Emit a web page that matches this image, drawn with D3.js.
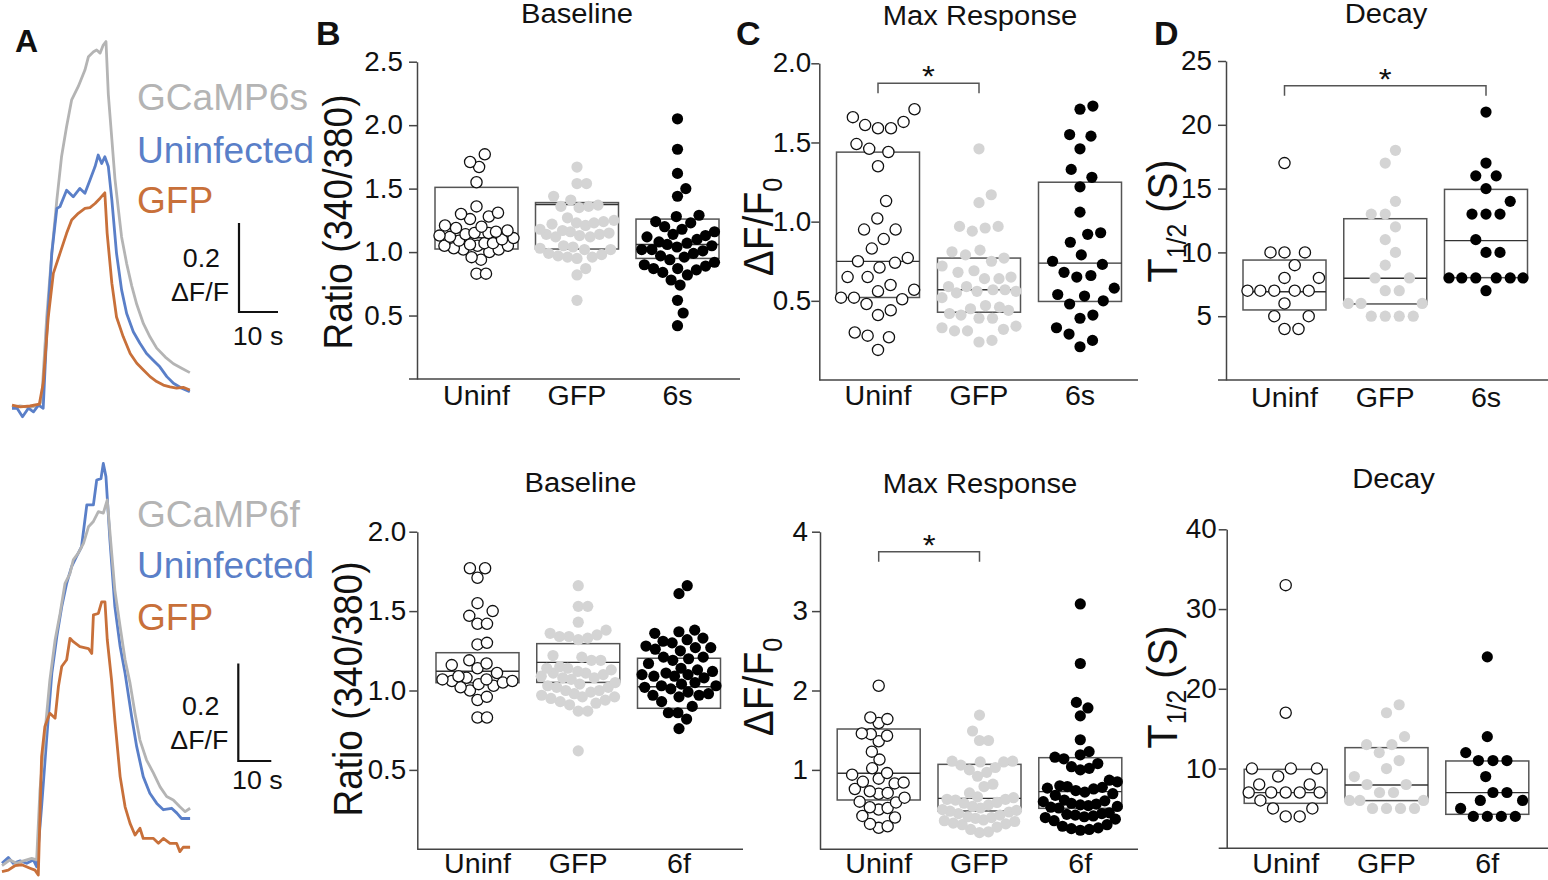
<!DOCTYPE html>
<html><head><meta charset="utf-8">
<script src="https://cdn.jsdelivr.net/npm/d3@7"></script>
<style>
body{margin:0;background:#fff}
svg{display:block}
text{font-family:"Liberation Sans",Arial,Helvetica,sans-serif}
</style>
</head><body>
<svg id="c" width="1548" height="880"></svg>
<script>
// ================= DATA =================
const groupsTop = ["Uninf", "GFP", "6s"];
const groupsBottom = ["Uninf", "GFP", "6f"];

// Panel A traces: [time (s), ΔF/F]
const traceTopGray = [[0,-0.003],[2.05,0],[4.6,-0.003],[7.0,0.002],[7.6,0.013],[8.9,0.20],[10.2,0.343],[11.5,0.463],[12.7,0.56],[14.0,0.628],[15.3,0.688],[17.0,0.718],[18.7,0.755],[19.6,0.785],[20.9,0.796],[21.7,0.80],[22.6,0.793],[23.4,0.811],[24.1,0.819],[24.7,0.70],[25.6,0.60],[26.4,0.51],[27.3,0.44],[28.1,0.38],[29.4,0.32],[30.7,0.27],[32.0,0.228],[33.7,0.185],[35.4,0.155],[37.1,0.13],[39.3,0.11],[41.4,0.095],[43.5,0.085],[45.6,0.075]];
const traceTopBlue = [[0,-0.005],[1.3,-0.005],[2.7,-0.024],[4.2,-0.005],[5.5,-0.013],[6.8,0.002],[8.0,-0.005],[8.9,0.163],[10.2,0.343],[11.5,0.444],[12.3,0.448],[14.0,0.485],[15.7,0.47],[17.4,0.489],[18.7,0.478],[20.0,0.508],[21.3,0.538],[22.1,0.564],[23.0,0.545],[23.8,0.56],[24.7,0.538],[25.6,0.463],[26.8,0.343],[28.1,0.261],[29.4,0.208],[31.1,0.167],[32.8,0.141],[34.5,0.118],[36.2,0.103],[37.9,0.088],[39.7,0.066],[41.4,0.051],[43.5,0.04],[45.6,0.032]];
const traceTopOrange = [[0,0.002],[2.1,-0.002],[4.6,0],[7.0,0.004],[8.0,0.051],[9.3,0.20],[10.6,0.298],[12.3,0.343],[14.0,0.388],[15.3,0.418],[17.0,0.433],[18.7,0.444],[20.0,0.446],[21.3,0.455],[22.6,0.467],[23.8,0.479],[24.4,0.388],[25.6,0.276],[26.8,0.20],[28.5,0.156],[30.3,0.118],[32.0,0.096],[33.7,0.081],[35.4,0.066],[37.1,0.055],[38.8,0.047],[40.5,0.043],[42.2,0.04],[43.9,0.042],[45.6,0.036]];

const traceBotGray = [[0,-0.005],[2.4,0.007],[4.4,0],[6.5,0.005],[9.0,0.01],[10.5,0.007],[11.5,0.15],[13.0,0.267],[14.5,0.376],[16.1,0.459],[17.6,0.513],[19.1,0.575],[20.6,0.595],[21.6,0.623],[23.1,0.637],[24.7,0.657],[26.2,0.691],[27.7,0.702],[29.2,0.722],[30.7,0.719],[31.9,0.746],[32.9,0.664],[34.2,0.561],[35.8,0.486],[37.3,0.418],[38.8,0.37],[40.3,0.308],[41.8,0.253],[43.8,0.212],[45.9,0.185],[47.9,0.157],[49.9,0.137],[51.9,0.13],[53.9,0.116],[55.5,0.106],[57.0,0.113]];
const traceBotBlue = [[0,0],[1.9,0.012],[3.4,0],[5.5,0.005],[7.5,0],[9.5,0.007],[10.5,-0.007],[12.0,0.116],[13.5,0.253],[15.1,0.39],[16.6,0.465],[18.1,0.527],[19.6,0.575],[21.1,0.609],[22.6,0.63],[24.1,0.65],[25.7,0.736],[27.7,0.736],[28.7,0.787],[30.0,0.79],[30.7,0.821],[31.5,0.794],[32.7,0.664],[34.2,0.527],[35.8,0.445],[37.3,0.39],[39.3,0.301],[40.8,0.24],[42.8,0.178],[44.8,0.144],[46.9,0.123],[48.9,0.11],[51.4,0.113],[53.0,0.103],[54.4,0.092],[57.0,0.092]];
const traceBotOrange = [[0,-0.017],[1.9,-0.014],[3.9,-0.005],[6.0,-0.003],[8.5,-0.01],[10.0,-0.014],[11.0,-0.024],[12.0,0.219],[13.0,0.281],[14.5,0.308],[16.1,0.298],[17.1,0.363],[18.1,0.404],[19.6,0.418],[20.6,0.462],[21.6,0.455],[23.6,0.445],[26.2,0.441],[27.2,0.431],[27.7,0.51],[29.2,0.513],[30.2,0.537],[31.2,0.537],[31.9,0.459],[33.2,0.376],[34.2,0.294],[35.8,0.178],[37.3,0.116],[38.8,0.082],[40.3,0.058],[41.8,0.072],[42.8,0.051],[45.9,0.051],[47.4,0.041],[48.9,0.051],[50.9,0.041],[52.9,0.041],[53.9,0.024],[54.9,0.033],[57.0,0.033]];

// Scale bar values
const scaleBarDF = 0.2;   // ΔF/F
const scaleBarT = 10;     // s

// Baseline (top, 6s)
const baseTopUninf = [1.77,1.71,1.67,1.55,1.36,1.31,1.30,1.28,1.26,1.21,1.20,1.19,1.17,1.16,1.15,1.15,1.14,1.13,1.12,1.11,1.10,1.09,1.07,1.07,1.06,1.05,1.05,1.05,1.03,1.02,1.02,1.00,0.96,0.94,0.83,0.83];
const baseTopGFP = [1.67,1.54,1.54,1.44,1.41,1.37,1.36,1.36,1.35,1.27,1.25,1.24,1.23,1.23,1.22,1.21,1.18,1.17,1.16,1.15,1.14,1.14,1.13,1.12,1.12,1.05,1.04,1.03,1.02,1.02,0.99,0.98,0.97,0.96,0.96,0.95,0.87,0.82,0.62];
const baseTop6s = [2.05,1.81,1.62,1.50,1.44,1.29,1.28,1.24,1.23,1.20,1.18,1.16,1.14,1.13,1.12,1.10,1.08,1.07,1.06,1.05,1.04,1.02,1.02,1.01,0.99,0.97,0.96,0.94,0.92,0.90,0.89,0.87,0.87,0.86,0.84,0.82,0.78,0.74,0.62,0.52,0.42];
const boxBaseTop = [[1.024,1.113,1.51],[1.024,1.375,1.39],[0.95,1.06,1.26]]; // [low, mid, high]

// Max response (top, 6s)
const maxTopUninf = [1.71,1.66,1.63,1.61,1.59,1.59,1.49,1.46,1.44,1.35,1.13,1.02,0.95,0.95,0.89,0.83,0.77,0.75,0.74,0.71,0.65,0.65,0.60,0.57,0.56,0.52,0.52,0.51,0.48,0.44,0.41,0.30,0.28,0.27,0.19];
const maxTopGFP = [1.46,1.17,1.12,0.97,0.97,0.96,0.94,0.82,0.81,0.79,0.77,0.75,0.72,0.69,0.68,0.65,0.64,0.64,0.59,0.59,0.57,0.57,0.56,0.56,0.55,0.52,0.47,0.46,0.45,0.44,0.42,0.41,0.39,0.39,0.34,0.33,0.32,0.31,0.31,0.25,0.24];
const maxTop6s = [1.73,1.71,1.55,1.54,1.46,1.33,1.28,1.22,1.06,0.93,0.92,0.87,0.79,0.75,0.73,0.68,0.66,0.65,0.58,0.54,0.53,0.50,0.48,0.41,0.39,0.33,0.29,0.25,0.21];
const boxMaxTop = [[0.521,0.749,1.439],[0.428,0.57,0.77],[0.496,0.738,1.249]];

// Decay (top, 6s)
const decayTopUninf = [17,10,10,10,9,8,8,7,7,7,7,7,6,5,5,4,4];
const decayTopGFP = [18,17,14,13,13,12,11,10,9,8,8,7,7,6,6,6,5,5,5,5];
const decayTop6s = [21,17,16,16,15,14,13,13,13,11,10,10,8,8,8,8,8,8,7];
const boxDecayTop = [[5.49,6.92,9.40],[5.96,7.97,12.64],[8.02,10.92,14.94]];

// Baseline (bottom, 6f)
const baseBotUninf = [1.77,1.77,1.71,1.55,1.50,1.47,1.42,1.42,1.30,1.29,1.19,1.17,1.16,1.14,1.11,1.09,1.08,1.07,1.07,1.06,1.06,1.05,1.04,1.03,1.02,1.00,0.96,0.94,0.83,0.83];
const baseBotGFP = [1.66,1.53,1.53,1.43,1.38,1.36,1.35,1.34,1.34,1.33,1.32,1.22,1.21,1.19,1.19,1.15,1.14,1.14,1.13,1.12,1.11,1.11,1.10,1.09,1.08,1.08,1.07,1.05,1.04,1.03,1.02,1.02,1.00,1.00,0.99,0.98,0.97,0.96,0.96,0.95,0.94,0.93,0.92,0.91,0.87,0.87,0.62];
const baseBot6f = [1.66,1.61,1.38,1.37,1.36,1.33,1.32,1.31,1.30,1.28,1.27,1.27,1.26,1.25,1.21,1.21,1.20,1.19,1.17,1.14,1.13,1.12,1.11,1.10,1.10,1.09,1.09,1.08,1.05,1.04,1.03,1.03,1.02,1.01,0.99,0.98,0.97,0.97,0.96,0.93,0.90,0.86,0.86,0.82,0.76];
const boxBaseBot = [[1.049,1.121,1.238],[1.051,1.177,1.295],[0.888,1.024,1.203]];

// Max response (bottom, 6f)
const maxBotUninf = [2.06,1.66,1.64,1.59,1.46,1.45,1.43,1.36,1.23,1.13,1.02,0.96,0.94,0.89,0.85,0.84,0.83,0.76,0.73,0.71,0.70,0.65,0.60,0.59,0.53,0.52,0.50,0.42,0.40,0.32,0.29,0.27];
const maxBotGFP = [1.69,1.49,1.37,1.37,1.11,1.11,1.10,1.10,1.06,1.03,1.00,0.97,0.92,0.82,0.79,0.71,0.66,0.65,0.63,0.63,0.62,0.59,0.58,0.56,0.54,0.52,0.50,0.49,0.48,0.47,0.45,0.43,0.41,0.40,0.39,0.37,0.36,0.35,0.33,0.32,0.31,0.28,0.25,0.22,0.21];
const maxBot6f = [3.09,2.34,1.85,1.78,1.68,1.38,1.23,1.19,1.16,1.14,1.08,1.04,1.02,1.00,0.87,0.85,0.80,0.79,0.78,0.77,0.76,0.74,0.72,0.70,0.68,0.62,0.61,0.60,0.58,0.57,0.56,0.55,0.54,0.53,0.52,0.46,0.45,0.44,0.43,0.42,0.41,0.40,0.38,0.36,0.31,0.29,0.27,0.26,0.25,0.24];
const boxMaxBot = [[0.621,0.957,1.515],[0.483,0.642,1.07],[0.516,0.726,1.154]];

// Decay (bottom, 6f)
const decayBotUninf = [33,17,10,10,10,9,8,8,7,7,7,7,7,6,5,5,4,4];
const decayBotGFP = [18,17,14,13,13,12,11,10,9,8,8,7,7,6,6,6,5,5,5,5];
const decayBot6f = [24,14,12,11,11,11,9,7,7,6,6,5,4,4,4,4];
const boxDecayBot = [[5.64,6.98,9.9],[5.98,7.94,12.62],[4.26,6.98,10.95]];

// Tick values
const baseTopTicks = [0.5,1.0,1.5,2.0,2.5];
const maxTopTicks = [0.5,1.0,1.5,2.0];
const decayTopTicks = [5,10,15,20,25];
const baseBotTicks = [0.5,1.0,1.5,2.0];
const maxBotTicks = [1,2,3,4];
const decayBotTicks = [10,20,30,40];

// Significance pairs (group indices)
const sigMaxTop = [0,1];
const sigDecayTop = [0,2];
const sigMaxBot = [0,1];

// ================= DRAWING =================
const svg = d3.select("#c");
svg.append("rect").attr("width",1548).attr("height",880).attr("fill","#fff");

const COL_GRAY = "#b4b4b4", COL_BLUE = "#5a7fc8", COL_ORANGE = "#c8703a";
const DOT_GRAY = "#d4d4d4";

function stext(x, y, str, size, sx, anchor, opts={}) {
  const t = svg.append("text")
    .attr("transform", `translate(${x},${y}) scale(${sx},1)` + (opts.rot ? " rotate(-90)" : ""))
    .attr("text-anchor", anchor).attr("font-size", size)
    .attr("fill", opts.fill || "#111");
  if (opts.weight) t.attr("font-weight", opts.weight);
  if (str !== null) t.text(str);
  return t;
}

// ---- Panel A ----
function tracePanel(cfg) {
  const xs = d3.scaleLinear().domain([0, scaleBarT]).range([cfg.x0, cfg.x0 + cfg.pxPer10s]);
  const ys = d3.scaleLinear().domain([0, scaleBarDF]).range([cfg.y0, cfg.y0 - cfg.pxPer02]);
  const line = d3.line().x(d => xs(d[0])).y(d => ys(d[1]));
  cfg.traces.forEach(([data, col]) => {
    svg.append("path").attr("d", line(data)).attr("fill","none")
      .attr("stroke", col).attr("stroke-width", 2.8).attr("stroke-linejoin","round");
  });
  cfg.legend.forEach(([label, col], i) => {
    stext(137, cfg.legY[i], label, 36, 1.03, "start", {fill: col});
  });
  const h = ys(0) - ys(scaleBarDF), w = xs(scaleBarT) - xs(0);
  svg.append("path")
    .attr("d", `M${cfg.sbX},${cfg.sbY - h}V${cfg.sbY}H${cfg.sbX + w}`)
    .attr("fill","none").attr("stroke","#111").attr("stroke-width",2.2);
  stext(cfg.sbX - 19, cfg.lab02Y, "0.2", 26, 1.03, "end");
  stext(cfg.sbX - 10, cfg.labDFY, "ΔF/F", 26, 1.03, "end");
  stext(cfg.sbX + 19, cfg.lab10Y, "10 s", 26, 1.03, "middle");
}

tracePanel({x0: 12, pxPer10s: 39, y0: 406, pxPer02: 89,
  traces: [[traceTopGray, COL_GRAY], [traceTopBlue, COL_BLUE], [traceTopOrange, COL_ORANGE]],
  legend: [["GCaMP6s", COL_GRAY], ["Uninfected", COL_BLUE], ["GFP", COL_ORANGE]],
  legY: [110, 163, 213], sbX: 239, sbY: 312, lab02Y: 267, labDFY: 301, lab10Y: 345});

tracePanel({x0: 2, pxPer10s: 33, y0: 863.3, pxPer02: 97.4,
  traces: [[traceBotBlue, COL_BLUE], [traceBotGray, COL_GRAY], [traceBotOrange, COL_ORANGE]],
  legend: [["GCaMP6f", COL_GRAY], ["Uninfected", COL_BLUE], ["GFP", COL_ORANGE]],
  legY: [527, 578, 630], sbX: 238.3, sbY: 761, lab02Y: 715, labDFY: 749, lab10Y: 789});

// panel letters
stext(15, 52, "A", 32, 1.0, "start", {weight:"bold"});
stext(316, 45, "B", 34, 1.0, "start", {weight:"bold"});
stext(736, 45, "C", 34, 1.0, "start", {weight:"bold"});
stext(1154, 45, "D", 34, 1.0, "start", {weight:"bold"});

// ---- dot layout: beeswarm with anisotropic spacing (vertical distance weighted by k) ----
function swarm(vals, y, d, maxW, k) {
  const pts = vals.map(v => ({v, py: y(v)})).sort((a, b) => a.v - b.v);
  const placed = [];
  const dist = (c, q, p) => Math.hypot(c - q.dx, (p.py - q.py) * k);
  for (const p of pts) {
    const cands = [0];
    for (const q of placed) {
      const dy = Math.abs(p.py - q.py) * k;
      if (dy < d) { const dx = Math.sqrt(d*d - dy*dy); cands.push(q.dx + dx, q.dx - dx); }
    }
    cands.sort((a, b) => Math.abs(a) - Math.abs(b));
    let best = null;
    for (const c of cands) {
      if (Math.abs(c) > maxW + 1e-6) continue;
      if (placed.every(q => dist(c, q, p) >= d - 1e-6)) { best = c; break; }
    }
    if (best === null) {
      let bestM = -1;
      for (let c = -maxW; c <= maxW; c += 0.5) {
        const m = d3.min(placed, q => dist(c, q, p));
        if (m > bestM + 1e-9) { bestM = m; best = c; }
      }
    }
    p.dx = best; placed.push(p);
  }
  return pts;
}

// ---- scatter panels ----
function dotPanel(cfg) {
  const y = d3.scaleLinear().domain(cfg.domain).range([cfg.yBot, cfg.yTop]);
  const x = d3.scalePoint().domain(cfg.groups).range(cfg.centers);
  const bw = 83;

  const ax = d3.axisLeft(y).tickValues(cfg.ticks).tickSize(8).tickSizeOuter(0)
    .tickFormat(d3.format(cfg.fmt));
  const g = svg.append("g").attr("transform", `translate(${cfg.axisX},0)`).call(ax);
  g.select(".domain").attr("stroke","#444").attr("stroke-width",1.5);
  g.selectAll(".tick line").attr("stroke","#444").attr("stroke-width",1.5);
  g.selectAll(".tick text").attr("x", null)
    .attr("transform", `translate(${-(8 + cfg.pad)},0) scale(1.03,1)`)
    .attr("font-size", 27).attr("fill","#111")
    .attr("font-family", '"Liberation Sans",Arial,sans-serif');

  svg.append("line").attr("x1", cfg.axisX - cfg.xExt).attr("x2", cfg.xEnd)
    .attr("y1", y(0)).attr("y2", y(0)).attr("stroke","#444").attr("stroke-width",1.5);

  cfg.groups.forEach(gname => stext(x(gname), cfg.catY, gname, 27, 1.06, "middle"));

  stext(cfg.titleX, cfg.titleY, cfg.title, 27, 1.08, "middle");

  cfg.boxes.forEach((b, i) => {
    const xc = x(cfg.groups[i]);
    svg.append("rect").attr("x", xc - bw/2).attr("width", bw)
      .attr("y", y(b[2])).attr("height", y(b[0]) - y(b[2]))
      .attr("fill","none").attr("stroke","#555").attr("stroke-width",1.5);
    svg.append("line").attr("x1", xc - bw/2).attr("x2", xc + bw/2)
      .attr("y1", y(b[1])).attr("y2", y(b[1])).attr("stroke","#333").attr("stroke-width",1.4);
  });

  cfg.data.forEach((vals, i) => {
    const pts = swarm(vals, y, cfg.d, cfg.maxW, cfg.k);
    const xc = x(cfg.groups[i]);
    svg.append("g").selectAll("circle").data(pts).join("circle")
      .attr("cx", p => xc + p.dx).attr("cy", p => p.py).attr("r", 5.6)
      .attr("fill", i === 0 ? "#fff" : i === 1 ? DOT_GRAY : "#000")
      .attr("stroke", i === 0 ? "#111" : "none").attr("stroke-width", 1.3);
  });

  if (cfg.sig) {
    const x1 = x(cfg.groups[cfg.sig[0]]), x2 = x(cfg.groups[cfg.sig[1]]);
    svg.append("path").attr("d", `M${x1},${cfg.sigY + 10}V${cfg.sigY}H${x2}V${cfg.sigY + 10}`)
      .attr("fill","none").attr("stroke","#555").attr("stroke-width",1.5);
    stext((x1 + x2) / 2, cfg.sigY + 3, "*", 30, 1.1, "middle");
  }

  const t = stext(cfg.ylabX, cfg.ylabY, null, cfg.ylabSize, 1.08, "middle", {rot: true});
  if (cfg.ylab === "ratio") t.text("Ratio (340/380)");
  else if (cfg.ylab === "df") {
    t.append("tspan").text("ΔF/F");
    t.append("tspan").attr("font-size", cfg.ylabSize * 0.65).attr("dy", 8).text("0");
  } else {
    t.append("tspan").text("T");
    t.append("tspan").attr("font-size", cfg.ylabSize * 0.62).attr("dy", 8).text("1/2");
    t.append("tspan").attr("dy", -8).text(" (S)");
  }
}

dotPanel({groups: groupsTop, data: [baseTopUninf, baseTopGFP, baseTop6s], boxes: boxBaseTop,
  ticks: baseTopTicks, fmt: ".1f", domain: [0, 2.5], yTop: 61.7, yBot: 379, axisX: 417,
  centers: [476.5, 677.5], xExt: 8, xEnd: 740, pad: 6, title: "Baseline", titleX: 577, titleY: 23,
  catY: 405, ylab: "ratio", ylabX: 352, ylabY: 222, ylabSize: 37, d: 9.5, k: 0.6, maxW: 37});

dotPanel({groups: groupsTop, data: [maxTopUninf, maxTopGFP, maxTop6s], boxes: boxMaxTop,
  ticks: maxTopTicks, fmt: ".1f", domain: [0, 2], yTop: 63.3, yBot: 380, axisX: 819.3,
  centers: [878, 1080], xExt: 0, xEnd: 1138, pad: 0, title: "Max Response", titleX: 980, titleY: 25,
  catY: 405, ylab: "df", ylabX: 773, ylabY: 227, ylabSize: 39, d: 13, k: 0.55, maxW: 37,
  sig: sigMaxTop, sigY: 83.3});

dotPanel({groups: groupsTop, data: [decayTopUninf, decayTopGFP, decayTop6s], boxes: boxDecayTop,
  ticks: decayTopTicks, fmt: "d", domain: [0, 25], yTop: 61, yBot: 380, axisX: 1226,
  centers: [1284.5, 1486], xExt: 8, xEnd: 1548, pad: 6, title: "Decay", titleX: 1386, titleY: 23,
  catY: 407, ylab: "t", ylabX: 1177, ylabY: 221, ylabSize: 40, d: 14, k: 0.75, maxW: 37,
  sig: sigDecayTop, sigY: 85.7});

dotPanel({groups: groupsBottom, data: [baseBotUninf, baseBotGFP, baseBot6f], boxes: boxBaseBot,
  ticks: baseBotTicks, fmt: ".1f", domain: [0, 2], yTop: 531.7, yBot: 849.3, axisX: 417.3,
  centers: [477.5, 679], xExt: 0, xEnd: 743, pad: 3, title: "Baseline", titleX: 580.5, titleY: 491.7,
  catY: 873, ylab: "ratio", ylabX: 362, ylabY: 689, ylabSize: 37, d: 9.5, k: 0.6, maxW: 37});

dotPanel({groups: groupsBottom, data: [maxBotUninf, maxBotGFP, maxBot6f], boxes: boxMaxBot,
  ticks: maxBotTicks, fmt: "d", domain: [0, 4], yTop: 531.7, yBot: 849.3, axisX: 820,
  centers: [878.7, 1080.3], xExt: 0, xEnd: 1138, pad: 4, title: "Max Response", titleX: 980, titleY: 493,
  catY: 873, ylab: "df", ylabX: 773, ylabY: 687, ylabSize: 39, d: 9, k: 0.6, maxW: 37,
  sig: sigMaxBot, sigY: 551.7});

dotPanel({groups: groupsBottom, data: [decayBotUninf, decayBotGFP, decayBot6f], boxes: boxDecayBot,
  ticks: decayBotTicks, fmt: "d", domain: [0, 40], yTop: 529.3, yBot: 848.3, axisX: 1226.7,
  centers: [1285.7, 1487.3], xExt: 8, xEnd: 1548, pad: 2, title: "Decay", titleX: 1393.5, titleY: 488,
  catY: 873, ylab: "t", ylabX: 1177, ylabY: 687, ylabSize: 40, d: 14, k: 0.75, maxW: 37});
</script>
</body></html>
